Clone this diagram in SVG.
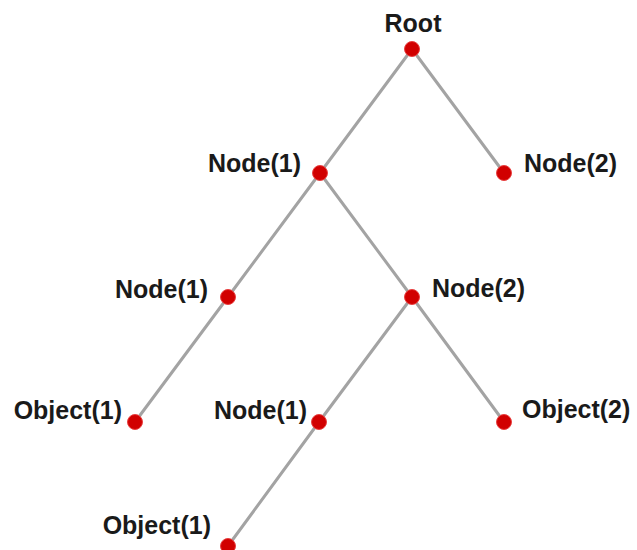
<svg xmlns="http://www.w3.org/2000/svg" width="637" height="550" viewBox="0 0 637 550">
<style>
.edge{stroke:#a3a3a3;stroke-width:3;fill:none;stroke-linecap:round}
.dot{fill:#d10000;stroke:#e84040;stroke-width:1}
.lbl{font-family:"Liberation Sans",Arial,sans-serif;font-weight:bold;font-size:25px;fill:#1a1a1a}
.l{text-anchor:end}
.r{text-anchor:start}
</style>
<rect width="637" height="550" fill="#ffffff"/>
<g id="connectors">
<line class="edge" x1="412" y1="49" x2="320" y2="173"/>
<line class="edge" x1="412" y1="49" x2="504" y2="173"/>
<line class="edge" x1="320" y1="173" x2="228" y2="297"/>
<line class="edge" x1="320" y1="173" x2="412" y2="297"/>
<line class="edge" x1="228" y1="297" x2="135" y2="422"/>
<line class="edge" x1="412" y1="297" x2="319" y2="422"/>
<line class="edge" x1="412" y1="297" x2="504" y2="422"/>
<line class="edge" x1="319" y1="422" x2="228" y2="546"/>
</g>
<g id="root"><circle class="dot" cx="412" cy="49" r="7.5"/><text class="lbl" x="413" y="32" text-anchor="middle">Root</text></g>
<g id="n1"><circle class="dot" cx="320" cy="173" r="7.5"/><text class="lbl l" x="301" y="172">Node(1)</text></g>
<g id="n2"><circle class="dot" cx="504" cy="173" r="7.5"/><text class="lbl r" x="524" y="172">Node(2)</text></g>
<g id="n11"><circle class="dot" cx="228" cy="297" r="7.5"/><text class="lbl l" x="208" y="298">Node(1)</text></g>
<g id="n12"><circle class="dot" cx="412" cy="297" r="7.5"/><text class="lbl r" x="432" y="297">Node(2)</text></g>
<g id="o111"><circle class="dot" cx="135" cy="422" r="7.5"/><text class="lbl l" x="122" y="419">Object(1)</text></g>
<g id="n121"><circle class="dot" cx="319" cy="422" r="7.5"/><text class="lbl l" x="307" y="419">Node(1)</text></g>
<g id="o122"><circle class="dot" cx="504" cy="422" r="7.5"/><text class="lbl r" x="522" y="418">Object(2)</text></g>
<g id="o1211"><circle class="dot" cx="228" cy="546" r="7.5"/><text class="lbl l" x="211" y="534">Object(1)</text></g>
</svg>
